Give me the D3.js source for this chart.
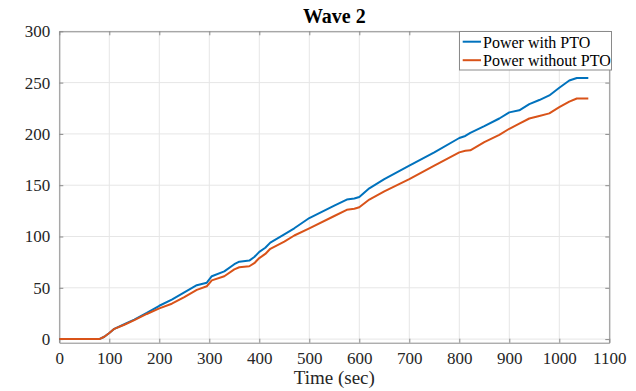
<!DOCTYPE html>
<html><head><meta charset="utf-8">
<script src="https://cdn.jsdelivr.net/npm/d3@7"></script>
<style>body{margin:0;background:#fff}svg{display:block}text{font-family:"Liberation Serif","Times New Roman",serif}</style>
</head><body>
<svg id="c" width="636" height="391"></svg>
<script>
const title = "Wave 2";
const xLabel = "Time (sec)";
const seriesNames = ["Power with PTO", "Power without PTO"];
const xTicks = [0,100,200,300,400,500,600,700,800,900,1000,1100];
const yTicks = [0,50,100,150,200,250,300];
const time = [0,80,90,100,110,130,150,175,200,225,250,275,295,305,330,350,360,380,390,400,412,422,450,470,500,550,575,590,600,620,650,700,750,800,812,822,850,880,900,920,940,960,980,1000,1020,1035,1058];
const withPTO = [0,0,2.3,6,10,14.5,19,25.5,32.5,38.5,45.5,52.5,55,61.3,66,73,75.5,76.5,80,85,89,94,102,108,118,130,136,137,138.5,147,156,169,182,196,198,201,207.5,215,221,223,229,233,237.5,245,252,254.5,254.5];
const withoutPTO = [0,0,2.3,6,10,14,18.5,24.5,30,34.5,41,48,51.5,57.2,61.3,68,70,71,74,79,83,88,95,101,108,120,126,127,128.5,136,144,156,169,182,183.5,184,192,199,205,210,215,217.5,220,226,231.5,234.5,234.5];

const W = 636, H = 391;
const m = {l:59.3, r:636-609.3, t:31.3, b:391-342.7};
const svg = d3.select("#c");
const x = d3.scaleLinear().domain([0,1100]).range([m.l, W-m.r]);
const y = d3.scaleLinear().domain([-3.5,300]).range([H-m.b, m.t]);

// grid
svg.append("g").selectAll("line").data(xTicks).join("line")
  .attr("x1",d=>x(d)).attr("x2",d=>x(d)).attr("y1",y(300)).attr("y2",y(-3.5))
  .attr("stroke","#e6e6e6").attr("stroke-width",1);
svg.append("g").selectAll("line").data(yTicks).join("line")
  .attr("y1",d=>y(d)).attr("y2",d=>y(d)).attr("x1",x(0)).attr("x2",x(1100))
  .attr("stroke","#e6e6e6").attr("stroke-width",1);

const axisColor = "#8a8a8a", textColor = "#262626";
const fmt = d3.format("d");
function styleAxis(g){
  g.select(".domain").attr("stroke",axisColor);
  g.selectAll(".tick line").attr("stroke",axisColor);
  g.selectAll(".tick text").attr("fill",textColor).style("font-size","17px").style("font-family","'Liberation Serif',serif");
}
const gxB = svg.append("g").attr("transform",`translate(0,${H-m.b})`)
  .call(d3.axisBottom(x).tickValues(xTicks).tickFormat(fmt).tickSizeInner(-4).tickSizeOuter(0).tickPadding(9));
styleAxis(gxB);
const gxT = svg.append("g").attr("transform",`translate(0,${m.t})`)
  .call(d3.axisTop(x).tickValues(xTicks).tickSizeInner(-4).tickSizeOuter(0).tickFormat(""));
styleAxis(gxT);
const gyL = svg.append("g").attr("transform",`translate(${m.l},0)`)
  .call(d3.axisLeft(y).tickValues(yTicks).tickFormat(fmt).tickSizeInner(-4).tickSizeOuter(0).tickPadding(9));
styleAxis(gyL);
const gyR = svg.append("g").attr("transform",`translate(${W-m.r},0)`)
  .call(d3.axisRight(y).tickValues(yTicks).tickSizeInner(-4).tickSizeOuter(0).tickFormat(""));
styleAxis(gyR);

const colors = ["#0072BD","#D95319"];
const data = [withPTO, withoutPTO];
const line = d3.line().x((d,i)=>x(time[i])).y(d=>y(d));
data.forEach((s,k)=>{
  svg.append("path").datum(s).attr("d",line).attr("fill","none")
    .attr("stroke",colors[k]).attr("stroke-width",2).attr("stroke-linejoin","round");
});

svg.append("text").attr("x",(x(0)+x(1100))/2).attr("y",23).attr("text-anchor","middle")
  .attr("fill","#000").style("font-size","20px").style("font-weight","bold").text(title);
svg.append("text").attr("x",(x(0)+x(1100))/2).attr("y",384).attr("text-anchor","middle")
  .attr("fill",textColor).style("font-size","19px").text(xLabel);

// legend
const lg = svg.append("g");
lg.append("rect").attr("x",459.5).attr("y",31.5).attr("width",152).attr("height",38.5)
  .attr("fill","#fff").attr("stroke","#8a8a8a");
seriesNames.forEach((n,k)=>{
  const yy = 41.7 + k*18.5;
  lg.append("line").attr("x1",462.7).attr("x2",481).attr("y1",yy).attr("y2",yy)
    .attr("stroke",colors[k]).attr("stroke-width",2);
  lg.append("text").attr("x",483).attr("y",yy+6).attr("fill","#000")
    .style("font-size","16px").text(n);
});
</script>
</body></html>
